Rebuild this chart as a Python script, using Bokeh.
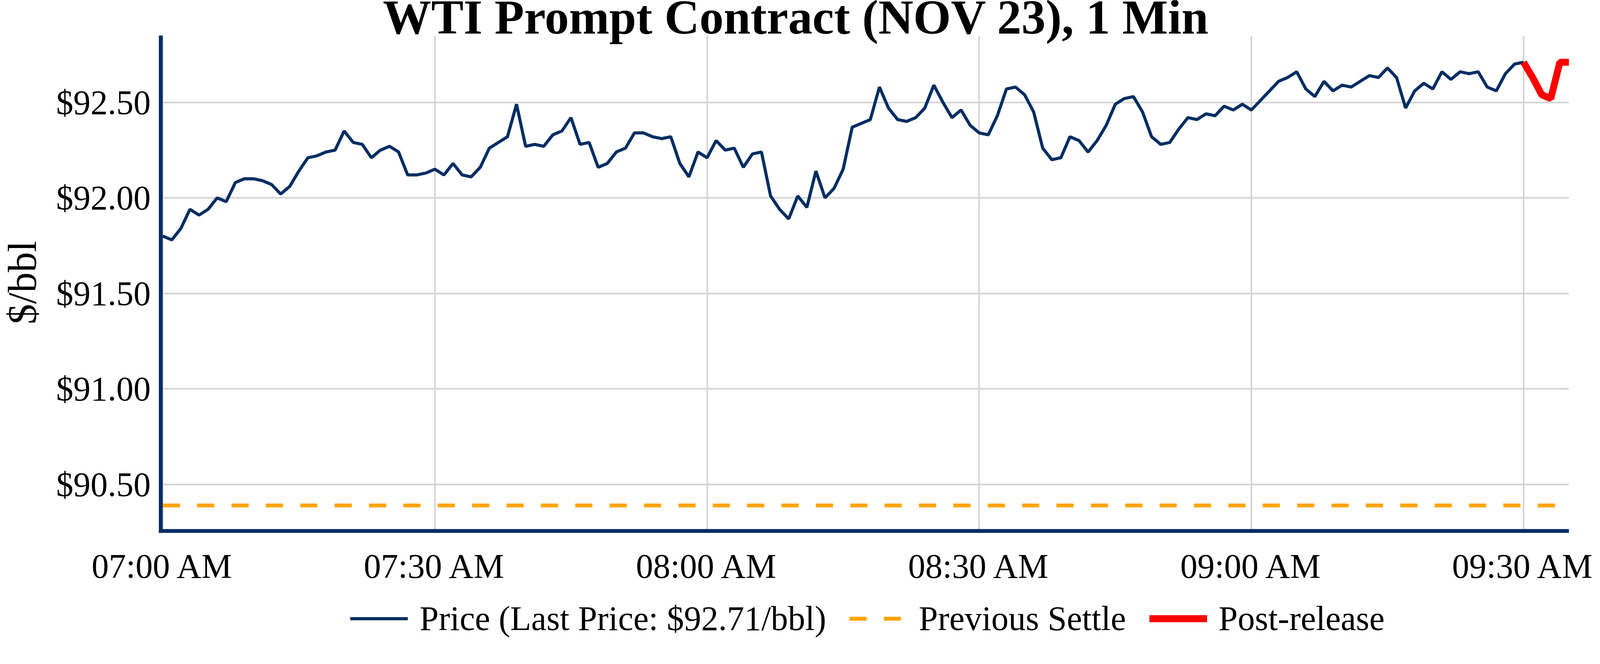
import pandas as pd
from bokeh.plotting import figure
from bokeh.models import (Range1d, FixedTicker, NumeralTickFormatter, DatetimeTickFormatter,
                          Legend, LegendItem, Label)
from bokeh.embed import file_html
from bokeh.resources import INLINE

# ---------------- data ----------------
price = [
    91.80, 91.78, 91.84, 91.94, 91.91, 91.94, 92.00, 91.98, 92.08, 92.10,
    92.10, 92.09, 92.07, 92.02, 92.06, 92.14, 92.21, 92.22, 92.24, 92.25,
    92.35, 92.29, 92.28, 92.21, 92.25, 92.27, 92.24, 92.12, 92.12, 92.13,
    92.15, 92.12, 92.18, 92.12, 92.11, 92.16, 92.26, 92.29, 92.32, 92.49,
    92.27, 92.28, 92.27, 92.33, 92.35, 92.42, 92.28, 92.29, 92.16, 92.18,
    92.24, 92.26, 92.34, 92.34, 92.32, 92.31, 92.32, 92.18, 92.11, 92.24,
    92.21, 92.30, 92.25, 92.26, 92.16, 92.23, 92.24, 92.01, 91.94, 91.89,
    92.01, 91.95, 92.14, 92.00, 92.05, 92.15, 92.37, 92.39, 92.41, 92.58,
    92.47, 92.41, 92.40, 92.42, 92.47, 92.59, 92.50, 92.42, 92.46, 92.38,
    92.34, 92.33, 92.43, 92.57, 92.58, 92.54, 92.45, 92.26, 92.20, 92.21,
    92.32, 92.30, 92.24, 92.30, 92.38, 92.49, 92.52, 92.53, 92.45, 92.32,
    92.28, 92.29, 92.36, 92.42, 92.41, 92.44, 92.43, 92.48, 92.46, 92.49,
    92.46, 92.51, 92.56, 92.61, 92.63, 92.66, 92.57, 92.53, 92.61, 92.56,
    92.59, 92.58, 92.61, 92.64, 92.63, 92.68, 92.63, 92.47, 92.56, 92.60,
    92.57, 92.66, 92.62, 92.66, 92.65, 92.66, 92.58, 92.56, 92.65, 92.70,
    92.71,
]
post_release = [92.71, 92.63, 92.54, 92.52, 92.71, 92.71]
previous_settle = 90.39
last_price = 92.71

session_day = "2023-09-28"
price_times = pd.date_range(session_day + " 07:00", periods=len(price), freq="min")
post_times = pd.date_range(session_day + " 09:30", periods=len(post_release), freq="min")

y_ticks = [90.5, 91.0, 91.5, 92.0, 92.5]
x_tick_times = ["07:00", "07:30", "08:00", "08:30", "09:00", "09:30"]
x_tick_labels = ["07:00 AM", "07:30 AM", "08:00 AM", "08:30 AM", "09:00 AM", "09:30 AM"]

title_text = "WTI Prompt Contract (NOV 23), 1 Min"
y_label = "$/bbl"
legend_labels = [f"Price (Last Price: ${last_price:.2f}/bbl)", "Previous Settle", "Post-release"]

# ---------------- styling / layout constants ----------------
NAVY = "#002D62"
ORANGE = "#FFA500"
RED = "#FF0000"
GRID = "#D3D3D3"
FONT = "Liberation Serif"

S = 1.014                 # page px -> picture px (geometry)
def px(v):                # picture px -> css px (sizes)
    return v / S

W, H = 4081, 1660          # the frame fills the whole figure

# scale of the plot in picture px
X0_PIC, PX_PER_MIN = 430.0, 23.55      # 07:00 position, px per minute
Y0_PIC, PX_PER_USD = 273.3, 496.0      # $92.50 position, px per dollar

def ms(ts):
    return pd.Timestamp(ts).value // 10**6

t0 = ms(price_times[0])
def x_at(pic_x):
    return t0 + (pic_x - X0_PIC) / PX_PER_MIN * 60000.0
def y_at(pic_y):
    return 92.5 - (pic_y - Y0_PIC) / PX_PER_USD

x_frame_start = x_at(8 * S)
x_frame_end = x_at((W + 8) * S)
y_frame_top = y_at(8 * S)
y_frame_bottom = y_at((H + 8) * S)

x_plot_start = x_at(420)
x_plot_end = ms(post_times[-1])
y_plot_top = y_at(100)
y_plot_bottom = y_at(1391)
x_spine = x_at(425)
y_spine = y_at(1386)

x_ticks = [ms(session_day + " " + t) for t in x_tick_times]

p = figure(
    x_axis_type="datetime",
    width=W, height=H,
    min_border_left=0, min_border_right=0, min_border_top=0, min_border_bottom=0,
    x_range=Range1d(x_frame_start, x_frame_end), y_range=Range1d(y_frame_bottom, y_frame_top),
    output_backend="svg", toolbar_location=None,
)
p.title.text = ""
p.outline_line_color = None
p.background_fill_color = "white"
p.border_fill_color = "white"

r_price = p.line(price_times, price, line_color=NAVY, line_width=px(8))
r_settle = p.line([price_times[0], post_times[-1]], [previous_settle, previous_settle],
                  line_color=ORANGE, line_width=px(10), line_dash="44 44")
r_post = p.line(post_times, post_release, line_color=RED, line_width=px(18))

# axis spines
p.segment(x0=[x_spine], y0=[y_plot_bottom], x1=[x_spine], y1=[y_plot_top],
          line_color=NAVY, line_width=px(10), line_cap="butt")
p.segment(x0=[x_plot_start], y0=[y_spine], x1=[x_plot_end], y1=[y_spine],
          line_color=NAVY, line_width=px(10), line_cap="butt")

# axes (labels only), pinned to the plot-area edges
for ax in (p.xaxis[0], p.yaxis[0]):
    ax.axis_line_color = None
    ax.major_tick_line_color = None
    ax.minor_tick_line_color = None
    ax.major_tick_out = 0
    ax.major_tick_in = 0
    ax.major_label_text_font = FONT
    ax.major_label_text_font_size = "88px"
    ax.major_label_text_color = "black"

p.xaxis.ticker = FixedTicker(ticks=x_ticks)
p.xaxis.formatter = DatetimeTickFormatter(minutes="%I:%M %p", hourmin="%I:%M %p", hours="%I:%M %p")
p.xaxis.major_label_overrides = {t: lab for t, lab in zip(x_ticks, x_tick_labels)}
p.xaxis.fixed_location = y_plot_bottom
p.xaxis.major_label_standoff = 37

p.yaxis.ticker = FixedTicker(ticks=y_ticks)
p.yaxis.formatter = NumeralTickFormatter(format="$0.00")
p.yaxis.fixed_location = x_plot_start
p.yaxis.major_label_standoff = 21

# y-axis title (rotated), centred on the plot area
p.add_layout(Label(x=x_at(65), y=y_at(741), text=y_label, angle=90, angle_units="deg",
                   text_font=FONT, text_font_size="104px", text_align="center",
                   text_baseline="middle", text_color="black"))

# grid
p.xgrid.ticker = FixedTicker(ticks=x_ticks)
p.ygrid.ticker = FixedTicker(ticks=y_ticks)
p.xgrid.cross_bounds = (y_plot_bottom, y_plot_top)
p.ygrid.cross_bounds = (x_plot_start, x_plot_end)
for g in (p.xgrid[0], p.ygrid[0]):
    g.grid_line_color = GRID
    g.grid_line_width = px(4)

# title, placed in the band above the plot area
p.add_layout(Label(x=x_at(2074), y=y_at(53), text=title_text,
                   text_font=FONT, text_font_size="124px", text_font_style="bold",
                   text_align="center", text_baseline="middle", text_color="black"))

legend = Legend(
    items=[LegendItem(label=legend_labels[0], renderers=[r_price]),
           LegendItem(label=legend_labels[1], renderers=[r_settle]),
           LegendItem(label=legend_labels[2], renderers=[r_post])],
    location=(round(917 / S - 8), 26), orientation="horizontal",
    glyph_width=round(px(150)), glyph_height=round(px(100)), label_height=round(px(100)),
    label_standoff=round(px(30)), spacing=round(px(60)),
    padding=0, margin=0, border_line_color=None, background_fill_alpha=0,
    label_text_font=FONT, label_text_font_size="88px", label_text_color="black",
)
p.add_layout(legend, "center")

open("out.html", "w").write(file_html(p, INLINE))
